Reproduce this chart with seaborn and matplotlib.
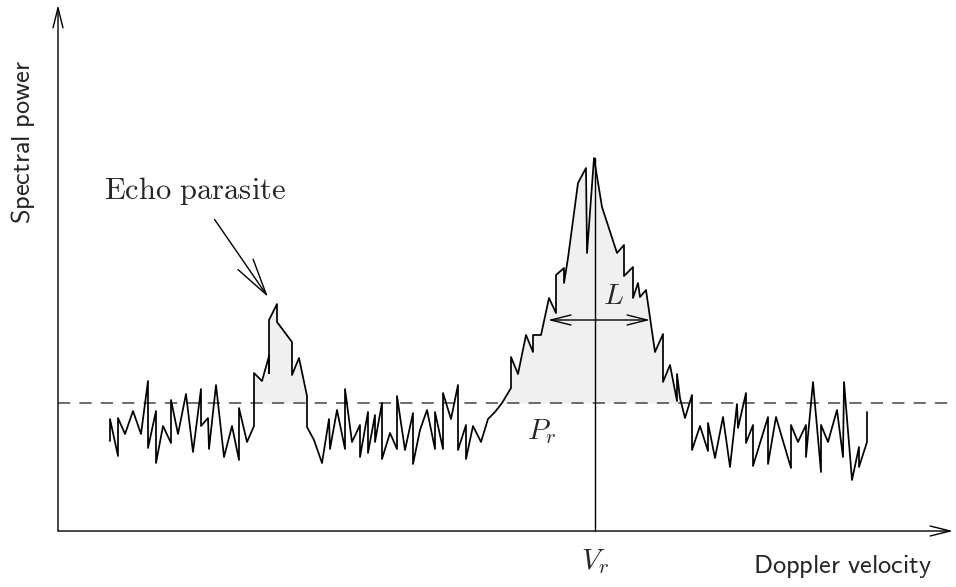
import numpy as np
import pandas as pd
from matplotlib import pyplot as plt
import seaborn as sns

# spectrum (arbitrary units)
velocity = [52, 52, 60, 60, 67, 75, 83, 90, 90, 98, 98, 105, 113, 113, 120, 128, 135, 143, 143, 150,
            151, 158, 166, 174, 181, 181, 189, 196, 196, 204, 211, 211, 211, 219, 219, 234, 234, 241, 249, 249,
            256, 264, 271, 272, 279, 287, 287, 294, 302, 302, 310, 310, 317, 317, 324, 324, 332, 339, 339, 347,
            355, 355, 362, 369, 377, 377, 385, 385, 393, 400, 400, 408, 408, 415, 423, 430, 437, 444, 453, 453,
            460, 468, 475, 475, 483, 491, 498, 498, 506, 506, 510, 520, 528, 529, 536, 544, 559, 566, 566, 575,
            575, 580, 582, 588, 597, 605, 605, 612, 619, 619, 622, 627, 634, 634, 642, 650, 650, 657, 665, 672,
            679, 680, 688, 688, 695, 695, 710, 710, 718, 725, 733, 733, 740, 748, 748, 755, 763, 763, 770, 779,
            785, 786, 794, 801, 801, 809, 809]
power = [90, 112, 75, 113, 97, 120, 97, 150, 83, 120, 68, 105, 88, 131, 97, 137, 79, 142, 105, 113,
         82, 146, 74, 105, 71, 123, 89, 105, 158, 150, 175, 158, 211, 227, 209, 189, 156, 173, 135, 104,
         91, 68, 112, 82, 121, 82, 142, 89, 106, 74, 119, 78, 116, 89, 128, 72, 98, 82, 135, 81,
         118, 67, 101, 121, 82, 119, 82, 138, 112, 146, 81, 106, 72, 105, 89, 112, 119, 128, 143, 174,
         157, 196, 179, 196, 196, 233, 218, 256, 263, 248, 273, 348, 363, 278, 373, 324, 278, 286, 255, 264,
         233, 248, 234, 241, 179, 197, 149, 166, 130, 157, 133, 113, 136, 81, 105, 80, 108, 73, 114, 64,
         127, 103, 138, 88, 106, 65, 114, 67, 114, 90, 63, 106, 89, 106, 74, 149, 59, 106, 89, 121,
         74, 149, 51, 84, 64, 89, 119]

noise_level = 128
v_r = 537
echo_range = (196, 249)
peak_range = (444, 627)
half_width = (490, 592)

df = pd.DataFrame({"velocity": velocity, "power": power})

sns.set_theme(style="white")
plt.rcParams["mathtext.fontset"] = "cm"

fig = plt.figure(figsize=(9.56, 5.87), dpi=100)
ax = fig.add_axes([0, 0, 1, 1])
ax.set_xlim(-58, 898)
ax.set_ylim(-56, 531)
ax.axis("off")

v = df["velocity"].to_numpy()
p = df["power"].to_numpy()
top = np.maximum(p, noise_level)
for lo, hi in (echo_range, peak_range):
    mask = (v >= lo) & (v <= hi)
    ax.fill_between(v, noise_level, top, where=mask, color="#f0f0f0", lw=0, zorder=1)

sns.lineplot(data=df, x="velocity", y="power", sort=False, estimator=None,
             color="black", lw=1.25, ax=ax, zorder=3)

ax.axhline(noise_level, xmin=58 / 956, color="#444444", lw=1.1, ls=(0, (8, 6)), zorder=2)

arrow = dict(arrowstyle="->,head_length=1.2,head_width=0.3", lw=1, color="black",
             shrinkA=0, shrinkB=0)

# axes with arrow heads
ax.annotate("", xy=(895, 0), xytext=(0, 0), arrowprops=arrow)
ax.annotate("", xy=(0, 526), xytext=(0, 0), arrowprops=arrow)

# V_r line and width arrow
ax.plot([v_r, v_r], [0, max(power)], color="black", lw=1, zorder=4)
ax.annotate("", xy=(half_width[1], 211), xytext=(half_width[0], 211),
            arrowprops=dict(arrow, arrowstyle="<->,head_length=1.2,head_width=0.3"), zorder=5)

ax.text(555, 235, "$L$", fontsize=21, ha="center", va="center")
ax.text(484, 99, "$P_r$", fontsize=21, ha="center", va="center")
ax.text(537, -31, "$V_r$", fontsize=21, ha="center", va="center")
ax.text(874, -36, r"$\mathsf{Doppler\ velocity}$", fontsize=19, ha="right", va="center")
ax.text(-35, 389, r"$\mathsf{Spectral\ power}$", fontsize=19, ha="center", va="center", rotation=90)

ax.annotate(r"$\mathrm{Echo\ parasite}$", xy=(210, 234), xytext=(137, 340),
            fontsize=22, ha="center", va="center",
            arrowprops=dict(arrow, shrinkA=8))

plt.savefig("out.png", dpi=100)
